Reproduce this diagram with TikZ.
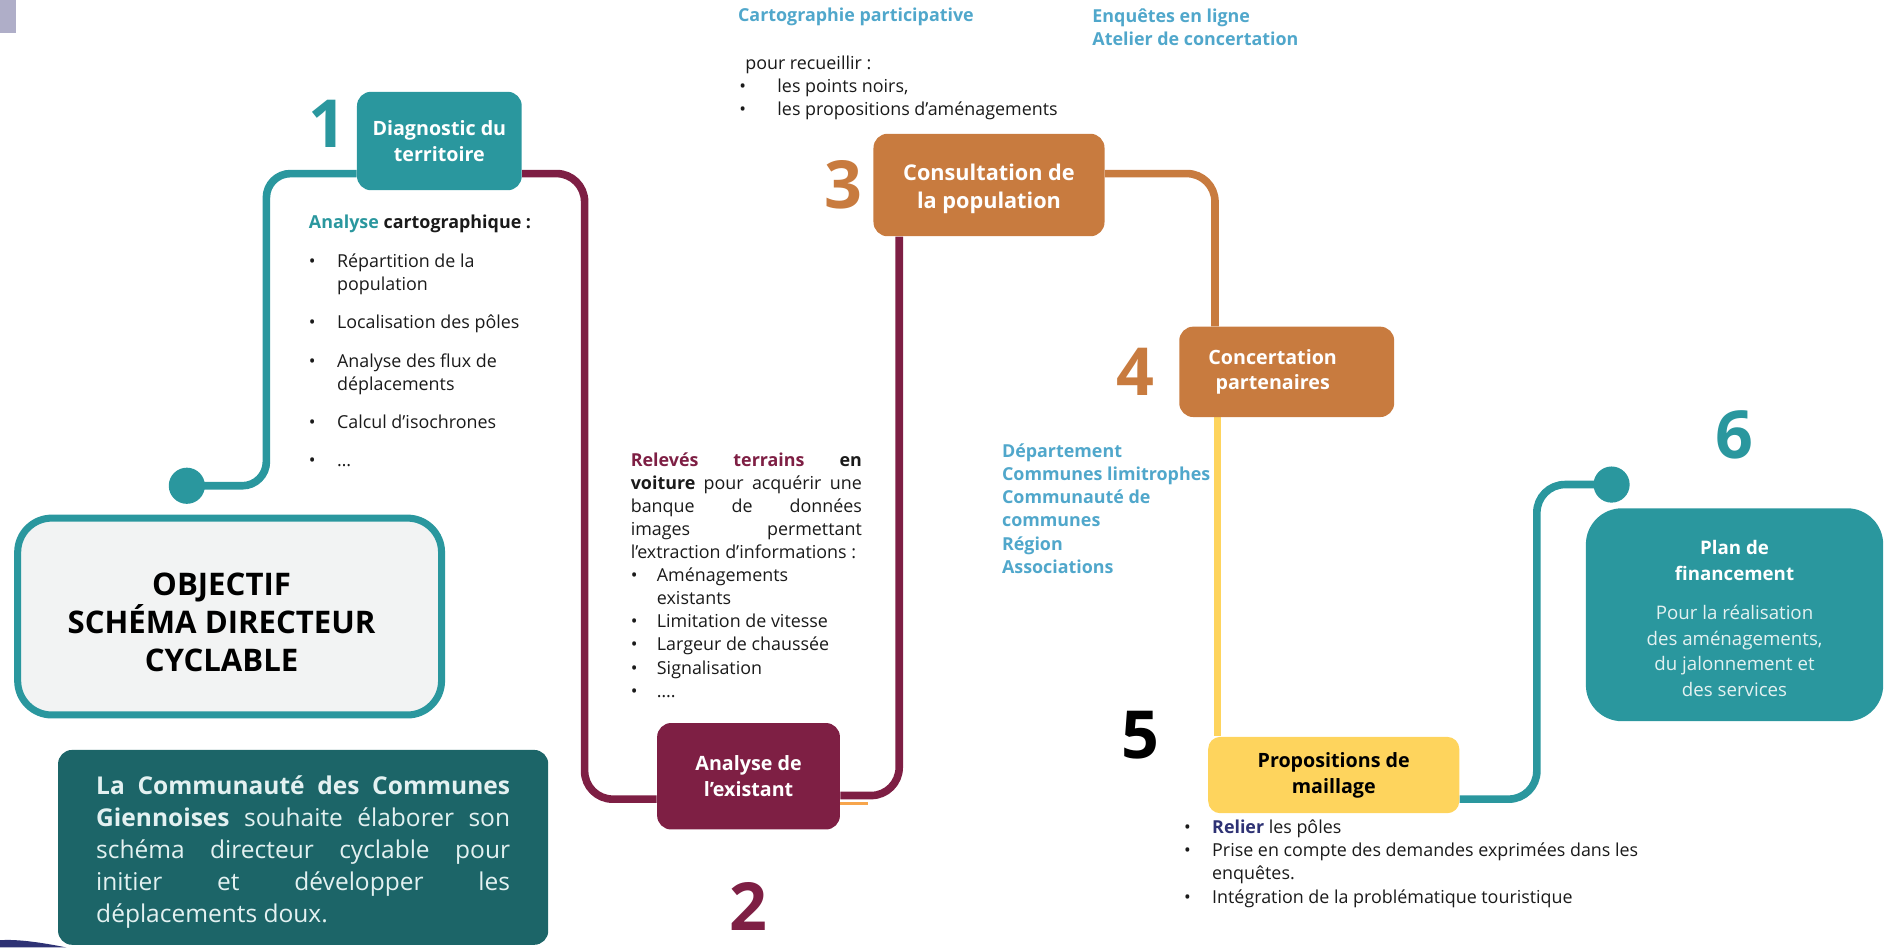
\documentclass[tikz,border=0pt]{standalone}
\usepackage{fontspec}
\setmainfont{Open Sans}
\usepackage{tikz}
\usepackage{xcolor}
\usetikzlibrary{positioning,backgrounds}
\definecolor{cTeal}{HTML}{2A979E}
\definecolor{cDark}{HTML}{1C6568}
\definecolor{cMar} {HTML}{7E1F44}
\definecolor{cOra} {HTML}{C87B3F}
\definecolor{cOraL}{HTML}{F7A54C}
\definecolor{cYel} {HTML}{FED45D}
\definecolor{cBlue}{HTML}{50A7CB}
\definecolor{cNavy}{HTML}{2E3274}
\definecolor{cObj} {HTML}{F2F3F3}
\definecolor{cPale}{HTML}{E3F1F1}
\definecolor{cLav} {HTML}{AFAEC8}
\definecolor{cInk} {HTML}{1A1A1A}
\newcommand{\bodyfnt}{\fontsize{8.9}{11.5}\selectfont}
\newcommand{\boxfnt}{\fontsize{9.8}{12.8}\selectfont\bfseries}
\newcommand{\numfnt}{\fontsize{33}{33}\selectfont\bfseries}
\newcommand{\itm}[1]{\makebox[#1][l]{\textbullet}}
\tikzset{
  stepbox/.style={rounded corners=7pt,align=center,inner sep=3pt,
                  font=\boxfnt,text=white},
  num/.style    ={font=\numfnt,inner sep=0pt},
  txt/.style    ={align=left,inner sep=0pt,anchor=north west,
                  font=\bodyfnt,text=cInk},
  btxt/.style   ={txt,font=\bodyfnt\bfseries,text=cBlue},
  tline/.style  ={line width=3.8pt},
  dot/.style    ={circle,inner sep=0pt,minimum size=18pt,fill=cTeal},
}

\begin{document}
\begin{tikzpicture}[x=0.6pt,y=-0.6pt]
\useasboundingbox (0,0) rectangle (1568,786);
% slide corners
\fill[cLav] (0,0) rectangle (13,27);
\fill[cNavy] (0,786) -- (0,780) .. controls (15,779) and (35,782) .. (55,786) -- cycle;

% objective and intro
\node[draw=cTeal,line width=3.5pt,fill=cObj,rounded corners=17pt,
      minimum width=211pt,minimum height=98pt] (obj) at (190.5,511.5) {};
\node[align=center,inner sep=0pt,font=\fontsize{15.5}{19}\selectfont\bfseries]
  (objtxt) at ([xshift=-4pt,yshift=-3pt]obj.center)
  {OBJECTIF\\SCHÉMA DIRECTEUR\\CYCLABLE};
\node[fill=cDark,rounded corners=7pt,minimum width=244pt,minimum height=97pt]
  (intro) at (251.5,703) {};
\node[align=left,inner sep=0pt,text=cPale,font=\fontsize{12.2}{15.9}\selectfont]
  (introtxt) at ([yshift=-2.4pt]intro.center)
  {\makebox[206pt][s]{\textbf{La\hfill Communauté\hfill des\hfill Communes}}\\
   \makebox[206pt][s]{\textbf{Giennoises}\hfill souhaite\hfill élaborer\hfill son}\\
   \makebox[206pt][s]{schéma\hfill directeur\hfill cyclable\hfill pour}\\
   \makebox[206pt][s]{initier\hfill et\hfill développer\hfill les}\\
   déplacements doux.};

% step boxes
\node[stepbox,fill=cTeal,minimum width=82pt,minimum height=49pt] (diag)
  at (364.5,117) {Diagnostic du\\territoire};
\node[stepbox,fill=cMar,minimum width=91pt,minimum height=53pt] (ana)
  at (621,644) {Analyse de\\l’existant};
\node[stepbox,fill=cOra,minimum width=115pt,minimum height=51pt,
      font=\fontsize{10.8}{13.8}\selectfont\bfseries] (cons)
  at (820.5,153.5) {\rule{0pt}{12pt}Consultation de\\la population};
\node[stepbox,fill=cOra,minimum width=107pt,minimum height=45pt] (conc)
  at (1067.5,308.5) {Concertation\hspace*{14pt}\\partenaires\hspace*{14pt}};
\node[stepbox,fill=cYel,text=black,rounded corners=6pt,minimum width=125pt,
      minimum height=38pt] (prop) at (1106.5,643) {Propositions de\\maillage};
\node[stepbox,fill=cTeal,rounded corners=18pt,minimum width=148pt,
      minimum height=106pt,font=\fontsize{9.3}{12.8}\selectfont] (plan)
  at (1439,510)
  {\rule{0pt}{11pt}\textbf{Plan de}\\\textbf{financement}\\[6.6pt]
   \textcolor{cPale}{Pour la réalisation}\\
   \textcolor{cPale}{des aménagements,}\\
   \textcolor{cPale}{du jalonnement et}\\
   \textcolor{cPale}{des services}};
\node[dot] (dot1) at (155,403) {};
\node[dot] (dot2) at (1337,402) {};

% step numbers
\node[num,text=cTeal] (n1) at (272,103) {1};
\node[num,text=cMar,below=26pt of ana] (n2) {2};
\node[num,text=cOra,left=5pt of cons] (n3) {3};
\node[num,text=cOra,left=12pt of conc] (n4) {4};
\node[num,text=black] (n5) at (946,610) {5};
\node[num,text=cTeal,above=24pt of plan] (n6) {6};

% the route
\coordinate (c1) at (221,144);
\coordinate (c2) at (485,663);
\coordinate (c3) at (746,660);
\coordinate (c4) at (1008,144);
\coordinate (c5) at (1010,0);
\coordinate (c6) at (1275,663);
\coordinate (c7) at (720,667);
\begin{scope}[on background layer]
  \draw[tline,cTeal,rounded corners=12pt] (dot1.center) -| (c1) -- (diag.west |- c1);
  \draw[tline,cMar,rounded corners=14pt] (diag.east |- c1) -| (c2) -- (ana.west |- c2);
  \draw[cOraL,line width=1.5pt] (ana.east |- c7) -- (c7);
  \draw[tline,cMar,rounded corners=14pt] (ana.east |- c3) -| (cons.south -| c3);
  \draw[tline,cOra,rounded corners=14pt] (cons.east |- c4) -| (conc.north -| c4);
  \draw[tline,cYel] (conc.south -| c5) -- (prop.north -| c5);
  \draw[tline,cTeal,rounded corners=14pt] (prop.east |- c6) -| (c6 |- dot2) -- (dot2.center);
\end{scope}

% notes
\node[txt] (cartnote) at (256,178)
  {\textbf{\textcolor{cTeal}{Analyse} cartographique :}\\[8pt]
   \itm{14pt}Répartition de la\\ \hspace*{14pt}population\\[7.5pt]
   \itm{14pt}Localisation des pôles\\[7.5pt]
   \itm{14pt}Analyse des flux de\\ \hspace*{14pt}déplacements\\[7.5pt]
   \itm{14pt}Calcul d’isochrones\\[7.5pt]
   \itm{14pt}…};
\node[txt] (relnote) at (523,375)
  {\makebox[115pt][s]{\textcolor{cMar}{\textbf{Relevés}}\hfill\textcolor{cMar}{\textbf{terrains}}\hfill\textbf{en}}\\
   \makebox[115pt][s]{\textbf{voiture}\hfill pour\hfill acquérir\hfill une}\\
   \makebox[115pt][s]{banque\hfill de\hfill données}\\
   \makebox[115pt][s]{images\hfill permettant}\\
   l’extraction d’informations :\\
   \itm{13pt}Aménagements\\ \hspace*{13pt}existants\\
   \itm{13pt}Limitation de vitesse\\
   \itm{13pt}Largeur de chaussée\\
   \itm{13pt}Signalisation\\
   \itm{13pt}….};
\node[btxt] (carto) at (612,6) {Cartographie participative};
\node[txt] (recueil) at (613,46)
  {\hspace*{3pt}pour recueillir :\\
   \itm{19pt}les points noirs,\\
   \itm{19pt}les propositions d’aménagements};
\node[btxt] (enq) at (906,7) {Enquêtes en ligne\\Atelier de concertation};
\node[btxt] (partners) at (831,368)
  {Département\\Communes limitrophes\\Communauté de\\communes\\Région\\Associations};
\node[txt] (mailnote) at (982,680)
  {\itm{14pt}\textcolor{cNavy}{\textbf{Relier}} les pôles\\
   \itm{14pt}Prise en compte des demandes exprimées dans les\\
   \hspace*{14pt}enquêtes.\\
   \itm{14pt}Intégration de la problématique touristique};
\end{tikzpicture}
\end{document}
